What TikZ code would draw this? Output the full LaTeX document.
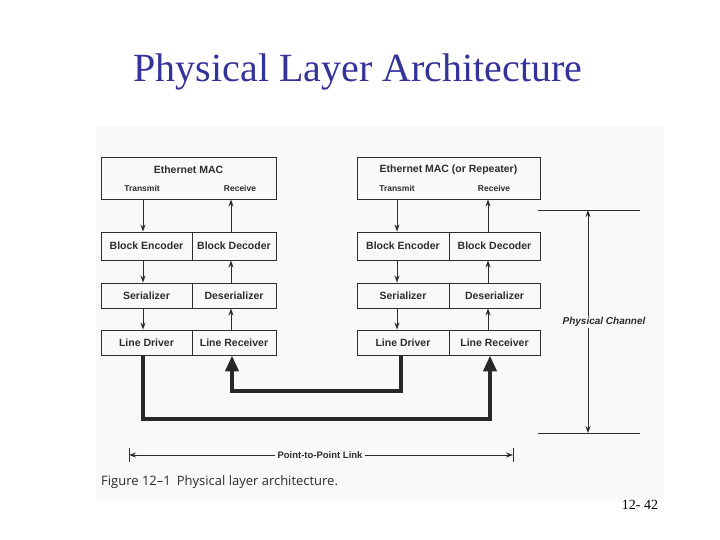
\documentclass[tikz,border=0pt]{standalone}
\usepackage{fontspec}
\setmainfont{Liberation Serif}
\newfontfamily\hv{Liberation Sans}
\newfontfamily\capf{Open Sans}
\usetikzlibrary{arrows.meta}
\definecolor{titleblue}{RGB}{51,51,153}
\definecolor{scanbg}{RGB}{249,249,249}
\definecolor{ink}{RGB}{45,45,45}
\tikzset{
  box/.style={draw=ink, line width=0.9pt, inner sep=0pt, text=ink,
    font=\hv\bfseries\fontsize{10.5}{12}\selectfont},
  small/.style={text=ink, inner sep=0pt, font=\hv\bfseries\fontsize{8.5}{10}\selectfont},
  thin/.style={draw=ink, line width=0.9pt, -{Stealth[length=7pt,width=5pt]}},
  link/.style={draw=ink!90!black, line width=4.5pt, line join=miter,
    -{Triangle[length=16pt,width=13pt]}},
  dim/.style={draw=ink, line width=0.8pt},
}
\begin{document}
\begin{tikzpicture}[x=1pt,y=-1pt]
\useasboundingbox (0,0) rectangle (720,540);
\fill[white] (0,0) rectangle (720,540);
\fill[scanbg] (96,126) rectangle (664,500);
% title
\node[text=titleblue, font=\fontsize{40}{44}\selectfont, inner sep=0pt] (title) at (358,72) {Physical Layer Architecture};
% left stack
\node[box, minimum width=175pt, minimum height=42pt] (macL) at (188.5,178) {};
\node[box, draw=none, anchor=center] (macLt) at (188.5,170) {Ethernet MAC};
\node[small] (txL) at (142,188) {Transmit};
\node[small] (rxL) at (240,188) {Receive};
\node[box, minimum width=91pt, minimum height=28pt] (encL) at (146.5,246) {Block Encoder};
\node[box, minimum width=84pt, minimum height=28pt] (decL) at (234,246) {Block Decoder};
\node[box, minimum width=91pt, minimum height=25pt] (serL) at (146.5,295.5) {Serializer};
\node[box, minimum width=84pt, minimum height=25pt] (desL) at (234,295.5) {Deserializer};
\node[box, minimum width=91pt, minimum height=25pt] (drvL) at (146.5,342.5) {Line Driver};
\node[box, minimum width=84pt, minimum height=25pt] (rcvL) at (234,342.5) {Line Receiver};
% right stack
\node[box, minimum width=183pt, minimum height=42pt] (macR) at (448.5,178) {};
\node[box, draw=none] (macRt) at (448.5,170) {Ethernet MAC (or Repeater)};
\node[small] (txR) at (397,188) {Transmit};
\node[small] (rxR) at (494,188) {Receive};
\node[box, minimum width=92pt, minimum height=28pt] (encR) at (403,246) {Block Encoder};
\node[box, minimum width=91pt, minimum height=28pt] (decR) at (494.5,246) {Block Decoder};
\node[box, minimum width=92pt, minimum height=25pt] (serR) at (403,295.5) {Serializer};
\node[box, minimum width=91pt, minimum height=25pt] (desR) at (494.5,295.5) {Deserializer};
\node[box, minimum width=92pt, minimum height=25pt] (drvR) at (403,342.5) {Line Driver};
\node[box, minimum width=91pt, minimum height=25pt] (rcvR) at (494.5,342.5) {Line Receiver};
% thin arrows left
\draw[thin] (143,0 |- macL.south) -- (143,0 |- encL.north);
\draw[thin] (143,0 |- encL.south) -- (143,0 |- serL.north);
\draw[thin] (143,0 |- serL.south) -- (143,0 |- drvL.north);
\draw[thin] (231,0 |- decL.north) -- (231,0 |- macL.south);
\draw[thin] (231,0 |- desL.north) -- (231,0 |- decL.south);
\draw[thin] (231,0 |- rcvL.north) -- (231,0 |- desL.south);
% thin arrows right
\draw[thin] (397,0 |- macR.south) -- (397,0 |- encR.north);
\draw[thin] (397,0 |- encR.south) -- (397,0 |- serR.north);
\draw[thin] (397,0 |- serR.south) -- (397,0 |- drvR.north);
\draw[thin] (488,0 |- decR.north) -- (488,0 |- macR.south);
\draw[thin] (488,0 |- desR.north) -- (488,0 |- decR.south);
\draw[thin] (488,0 |- rcvR.north) -- (488,0 |- desR.south);
% thick links
\draw[link] (143,0 |- drvL.south) -- (143,419) -- (490,419) -- (490,0 |- rcvR.south);
\draw[link] (401,0 |- drvR.south) -- (401,391) -- (232,391) -- (232,0 |- rcvL.south);
% physical channel
\coordinate (pcTop) at (588,210);
\coordinate (pcBot) at (588,433);
\draw[dim] (538,210) -- (640,210);
\draw[dim] (538,433) -- (640,433);
\node[fill=scanbg, text=ink, inner sep=1pt, font=\hv\bfseries\itshape\fontsize{10}{12}\selectfont] (pc) at (604,322) {Physical Channel};
\draw[thin] (588,0 |- pc.north) -- (pcTop);
\draw[thin] (588,0 |- pc.south) -- (pcBot);
% point-to-point link
\coordinate (ppL) at (129,455);
\coordinate (ppR) at (513,455);
\draw[dim] (129,448) -- (129,462);
\draw[dim] (513,448) -- (513,462);
\node[text=ink, inner sep=2pt, font=\hv\bfseries\fontsize{9.5}{11}\selectfont] (pp) at (320,455) {Point-to-Point Link};
\draw[thin] (pp.west) -- (ppL);
\draw[thin] (pp.east) -- (ppR);
% caption
\node[anchor=west, text=ink, inner sep=0pt, font=\capf\fontsize{13}{15}\selectfont] (cap) at (101,482) {Figure 12–1\hspace{6pt}Physical layer architecture.};
% page number
\node[font=\fontsize{14}{16}\selectfont, inner sep=0pt] (pg) at (640,505) {12- 42};
\end{tikzpicture}
\end{document}
